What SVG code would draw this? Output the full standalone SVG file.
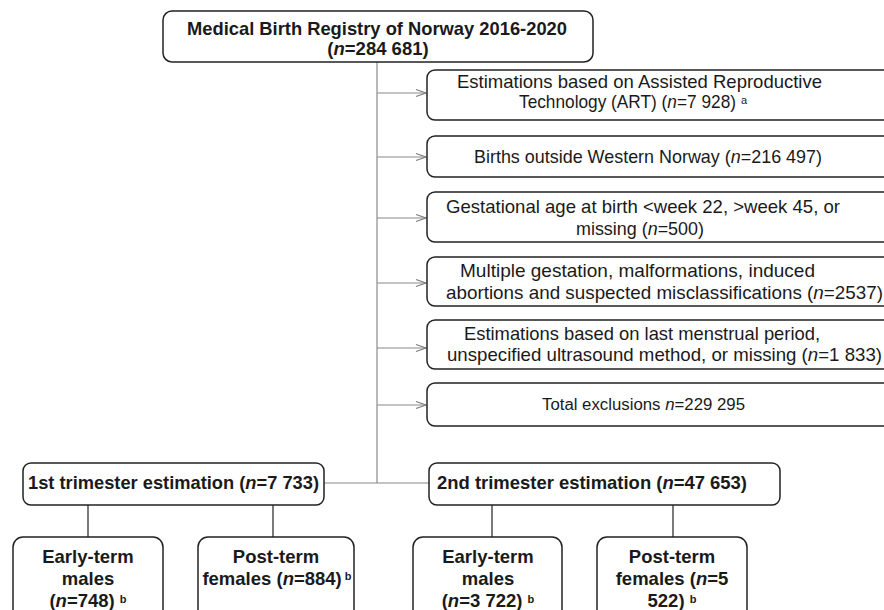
<svg xmlns="http://www.w3.org/2000/svg" width="884" height="610" viewBox="0 0 884 610">
<defs>
<marker id="arr" markerWidth="12" markerHeight="10" refX="11" refY="5" orient="auto" markerUnits="userSpaceOnUse">
<path d="M1,1.5 L11,5 L1,8.5" fill="none" stroke="#7a7a7a" stroke-width="1.1"/>
</marker>
<style>
.box{fill:#fff;stroke:#222;stroke-width:1.5}
.t{font-family:"Liberation Sans",Arial,sans-serif;fill:#1a1a1a;text-anchor:middle}
.s{font-family:"Liberation Sans",Arial,sans-serif;fill:#1a1a1a;font-size:18.5px}
.b{font-weight:bold}
.sup{font-size:11px}
.grey{stroke:#8a8a8a;stroke-width:1.2;fill:none}
.blk{stroke:#222;stroke-width:1.2;fill:none}
</style>
</defs>
<rect width="884" height="610" fill="#fff"/>
<g id="connectors">
<line class="grey" x1="377" y1="62" x2="377" y2="483"/>
<line class="grey" x1="324" y1="483" x2="429" y2="483"/>
<line class="grey" x1="377" y1="93" x2="426" y2="93" marker-end="url(#arr)"/>
<line class="grey" x1="377" y1="157" x2="426" y2="157" marker-end="url(#arr)"/>
<line class="grey" x1="377" y1="218" x2="426" y2="218" marker-end="url(#arr)"/>
<line class="grey" x1="377" y1="283" x2="426" y2="283" marker-end="url(#arr)"/>
<line class="grey" x1="377" y1="348" x2="426" y2="348" marker-end="url(#arr)"/>
<line class="grey" x1="377" y1="405" x2="426" y2="405" marker-end="url(#arr)"/>
<line class="blk" x1="88" y1="505" x2="88" y2="537"/>
<line class="blk" x1="273" y1="505" x2="273" y2="537"/>
<line class="blk" x1="492" y1="505" x2="492" y2="537"/>
<line class="blk" x1="673" y1="505" x2="673" y2="537"/>
</g>
<g id="registry">
<rect class="box" x="163" y="11" width="430" height="51" rx="9"/>
<text class="s b" x="187" y="35" textLength="380" lengthAdjust="spacingAndGlyphs">Medical Birth Registry of Norway 2016-2020</text>
<text class="t b" x="378" y="55" font-size="18.5">(<tspan font-style="italic">n</tspan>=284 681)</text>
</g>
<g id="ex-art">
<rect class="box" x="427" y="70" width="470" height="50" rx="8"/>
<text class="s" x="457" y="88" textLength="365" lengthAdjust="spacingAndGlyphs">Estimations based on Assisted Reproductive</text>
<text class="s" x="519" y="108" textLength="217" lengthAdjust="spacingAndGlyphs">Technology (ART) (<tspan font-style="italic">n</tspan>=7 928)</text>
<text class="s sup" x="741" y="104">a</text>
</g>
<g id="ex-outside">
<rect class="box" x="427" y="136" width="470" height="41" rx="8"/>
<text class="s" x="474" y="163" textLength="348" lengthAdjust="spacingAndGlyphs">Births outside Western Norway (<tspan font-style="italic">n</tspan>=216 497)</text>
</g>
<g id="ex-ga">
<rect class="box" x="427" y="192" width="470" height="50" rx="8"/>
<text class="s" x="446" y="213" textLength="394" lengthAdjust="spacingAndGlyphs">Gestational age at birth &lt;week 22, &gt;week 45, or</text>
<text class="s" x="576" y="235" textLength="128" lengthAdjust="spacingAndGlyphs">missing (<tspan font-style="italic">n</tspan>=500)</text>
</g>
<g id="ex-multiple">
<rect class="box" x="427" y="257" width="470" height="49" rx="8"/>
<text class="s" x="460" y="277" textLength="355" lengthAdjust="spacingAndGlyphs">Multiple gestation, malformations, induced</text>
<text class="s" x="446" y="299" textLength="437" lengthAdjust="spacingAndGlyphs">abortions and suspected misclassifications (<tspan font-style="italic">n</tspan>=2537)</text>
</g>
<g id="ex-lmp">
<rect class="box" x="427" y="320" width="470" height="49" rx="8"/>
<text class="s" x="464" y="340" textLength="356" lengthAdjust="spacingAndGlyphs">Estimations based on last menstrual period,</text>
<text class="s" x="447" y="361" textLength="435" lengthAdjust="spacingAndGlyphs">unspecified ultrasound method, or missing (<tspan font-style="italic">n</tspan>=1 833)</text>
</g>
<g id="ex-total">
<rect class="box" x="427" y="383" width="470" height="43" rx="8"/>
<text class="s" x="542" y="410" style="font-size:16px" textLength="203" lengthAdjust="spacingAndGlyphs">Total exclusions <tspan font-style="italic">n</tspan>=229 295</text>
</g>
<g id="first">
<rect class="box" x="23" y="463" width="301" height="42" rx="8"/>
<text class="s b" x="28" y="489" textLength="291" lengthAdjust="spacingAndGlyphs">1st trimester estimation (<tspan font-style="italic">n</tspan>=7 733)</text>
</g>
<g id="second">
<rect class="box" x="429" y="463" width="351" height="42" rx="8"/>
<text class="s b" x="437" y="489" textLength="310" lengthAdjust="spacingAndGlyphs">2nd trimester estimation (<tspan font-style="italic">n</tspan>=47 653)</text>
</g>
<g id="early1">
<rect class="box" x="13" y="537" width="150" height="90" rx="10"/>
<text class="t b" x="88" y="563" font-size="18.5">Early-term</text>
<text class="t b" x="88" y="585" font-size="18.5">males</text>
<text class="t b" x="88" y="607" font-size="18.5">(<tspan font-style="italic">n</tspan>=748) <tspan class="sup" dy="-4">b</tspan></text>
</g>
<g id="post1">
<rect class="box" x="198" y="537" width="156" height="90" rx="10"/>
<text class="t b" x="276" y="563" font-size="18.5">Post-term</text>
<text class="t b" x="277" y="585" font-size="18.5">females (<tspan font-style="italic">n</tspan>=884)<tspan class="sup" dy="-5"> b</tspan></text>
</g>
<g id="early2">
<rect class="box" x="413" y="537" width="149" height="90" rx="10"/>
<text class="t b" x="488" y="563" font-size="18.5">Early-term</text>
<text class="t b" x="488" y="585" font-size="18.5">males</text>
<text class="t b" x="488" y="607" font-size="18.5">(<tspan font-style="italic">n</tspan>=3 722) <tspan class="sup" dy="-4">b</tspan></text>
</g>
<g id="post2">
<rect class="box" x="597" y="537" width="150" height="90" rx="10"/>
<text class="t b" x="672" y="563" font-size="18.5">Post-term</text>
<text class="t b" x="672" y="585" font-size="18.5">females (<tspan font-style="italic">n</tspan>=5</text>
<text class="t b" x="672" y="607" font-size="18.5">522) <tspan class="sup" dy="-4">b</tspan></text>
</g>
</svg>
